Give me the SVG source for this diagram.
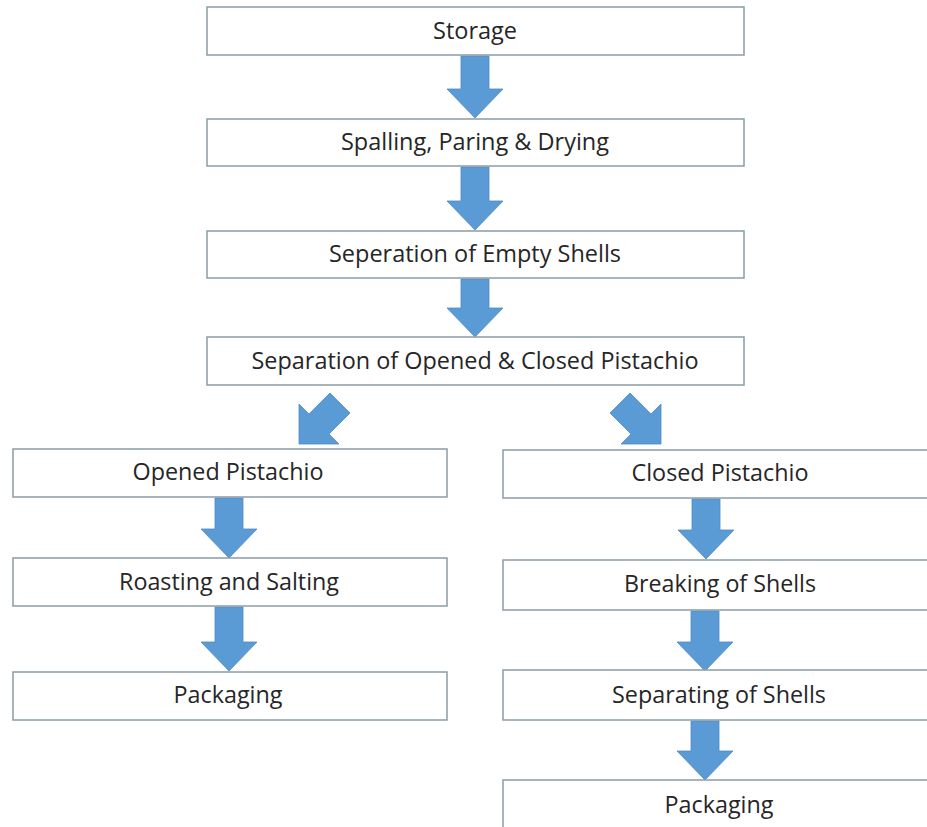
<svg xmlns="http://www.w3.org/2000/svg" width="927" height="827" viewBox="0 0 927 827">
<style>
.box{fill:#ffffff;stroke:#8a9ca6;stroke-width:1.5}
.lbl{font-family:"Open Sans","Liberation Sans",sans-serif;font-size:23px;fill:#262626;text-anchor:middle}
.arr{fill:#5b9bd5;stroke:#4f8cc4;stroke-width:0.8}
</style>
<rect width="927" height="827" fill="#ffffff"/>
<g id="connectors">
<polygon class="arr" points="461,56 489,56 489,89 503,89 475,118 447,89 461,89"/>
<polygon class="arr" points="461,167 489,167 489,201 503,201 475,230 447,201 461,201"/>
<polygon class="arr" points="461,279 489,279 489,308 503,308 475,337 447,308 461,308"/>
<polygon class="arr" points="330,393 350,413 329,434 339,444 299,444 299,404 309,414"/>
<polygon class="arr" points="630,393 651,414 661,404 661,444 621,444 631,434 610,413"/>
<polygon class="arr" points="215,498 243,498 243,529 257,529 229,558 201,529 215,529"/>
<polygon class="arr" points="215,607 243,607 243,642 257,642 229,671 201,642 215,642"/>
<polygon class="arr" points="692,499 720,499 720,530 734,530 706,559 678,530 692,530"/>
<polygon class="arr" points="691,611 719,611 719,642 733,642 705,671 677,642 691,642"/>
<polygon class="arr" points="691,721 719,721 719,751 733,751 705,780 677,751 691,751"/>
</g>
<g id="storage"><rect class="box" x="207" y="7" width="537" height="48"/><text class="lbl" x="475" y="39" textLength="84" lengthAdjust="spacingAndGlyphs">Storage</text></g>
<g id="spalling"><rect class="box" x="207" y="119" width="537" height="47"/><text class="lbl" x="475" y="150" textLength="268" lengthAdjust="spacingAndGlyphs">Spalling, Paring &amp; Drying</text></g>
<g id="empty-shells"><rect class="box" x="207" y="231" width="537" height="47"/><text class="lbl" x="475" y="262" textLength="292" lengthAdjust="spacingAndGlyphs">Seperation of Empty Shells</text></g>
<g id="separation"><rect class="box" x="207" y="337" width="537" height="48"/><text class="lbl" x="475" y="369" textLength="447" lengthAdjust="spacingAndGlyphs">Separation of Opened &amp; Closed Pistachio</text></g>
<g id="opened"><rect class="box" x="13" y="449" width="434" height="48"/><text class="lbl" x="228" y="480" textLength="191" lengthAdjust="spacingAndGlyphs">Opened Pistachio</text></g>
<g id="roasting"><rect class="box" x="13" y="558" width="434" height="48"/><text class="lbl" x="229" y="590" textLength="220" lengthAdjust="spacingAndGlyphs">Roasting and Salting</text></g>
<g id="packaging-left"><rect class="box" x="13" y="672" width="434" height="48"/><text class="lbl" x="228" y="703" textLength="109" lengthAdjust="spacingAndGlyphs">Packaging</text></g>
<g id="closed"><rect class="box" x="503" y="450" width="434" height="48"/><text class="lbl" x="720" y="481" textLength="177" lengthAdjust="spacingAndGlyphs">Closed Pistachio</text></g>
<g id="breaking"><rect class="box" x="503" y="560" width="434" height="50"/><text class="lbl" x="720" y="592" textLength="192" lengthAdjust="spacingAndGlyphs">Breaking of Shells</text></g>
<g id="separating"><rect class="box" x="503" y="670" width="434" height="50"/><text class="lbl" x="719" y="703" textLength="214" lengthAdjust="spacingAndGlyphs">Separating of Shells</text></g>
<g id="packaging-right"><rect class="box" x="503" y="780" width="434" height="50"/><text class="lbl" x="719" y="813" textLength="109" lengthAdjust="spacingAndGlyphs">Packaging</text></g>
</svg>
